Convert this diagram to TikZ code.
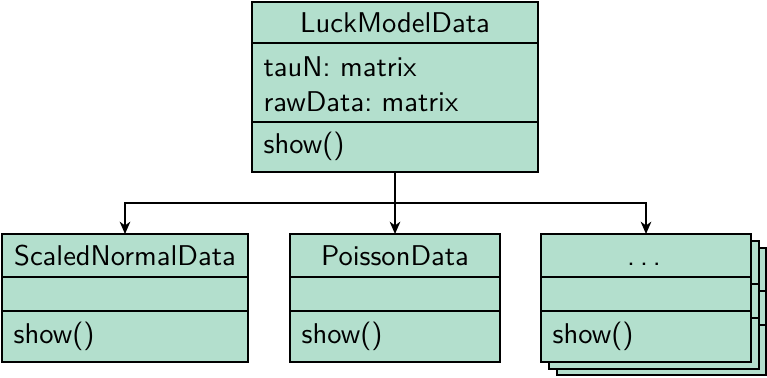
\documentclass[tikz,border=0pt]{standalone}
\usetikzlibrary{arrows.meta}
\definecolor{classfill}{RGB}{179,223,205}
\newcommand\unitpx{0.35pt}
\newcommand\spaceddots{.\kern1.7pt.\kern1.7pt.}
\begin{document}
\frenchspacing
\begin{tikzpicture}[x=0.35pt,y=-0.35pt,font=\sffamily,
  box/.style={draw,fill=classfill,line width=0.7pt,inner sep=0pt,outer sep=0pt,anchor=north west},
  rule/.style={line width=0.7pt},
  title/.style={anchor=base,inner sep=0pt},
  member/.style={anchor=base west,inner sep=0pt},
  link/.style={line width=0.7pt,-{Stealth[length=4.3pt,width=3.7pt,inset=1.3pt]}}]
\useasboundingbox (0,0) rectangle (767,377);

% base class
\node[box,minimum width=286*\unitpx,minimum height=170*\unitpx] (top) at (252,2) {};
\draw[rule] (252,43) -- (538,43);
\draw[rule] (252,122) -- (538,122);
\node[title] (topname) at (395,32) {LuckModelData};
\node[member] (topattrA) at (263,76) {tauN: matrix};
\node[member] (topattrB) at (263,111) {rawData: matrix};
\node[member] (topop) at (263,153) {show()};

% ScaledNormalData
\node[box,minimum width=246*\unitpx,minimum height=128*\unitpx] (snd) at (2,234) {};
\draw[rule] (2,277) -- (248,277);
\draw[rule] (2,311) -- (248,311);
\node[title] (sndname) at (125,265) {ScaledNormalData};
\node[member] (sndop) at (13,343) {show()};

% PoissonData
\node[box,minimum width=210*\unitpx,minimum height=128*\unitpx] (poisson) at (290,234) {};
\draw[rule] (290,277) -- (500,277);
\draw[rule] (290,311) -- (500,311);
\node[title] (poissonname) at (395,265) {PoissonData};
\node[member] (poissonop) at (301,343) {show()};

% further subclasses, drawn as a stack
\node[box,minimum width=209*\unitpx,minimum height=127*\unitpx] (dotsC) at (557,248) {};
\draw[rule] (557,291) -- (766,291);
\draw[rule] (557,325) -- (766,325);
\node[box,minimum width=210*\unitpx,minimum height=128*\unitpx] (dotsB) at (549,241) {};
\draw[rule] (549,284) -- (759,284);
\draw[rule] (549,318) -- (759,318);
\node[box,minimum width=210*\unitpx,minimum height=128*\unitpx] (dots) at (541,234) {};
\draw[rule] (541,277) -- (751,277);
\draw[rule] (541,311) -- (751,311);
\node[title] (dotsname) at (644,265) {\spaceddots};
\node[member] (dotsop) at (552,343) {show()};

% inheritance links
\coordinate (bus) at (395,203);
\draw[rule] (top.south) -- (bus);
\draw[link] (bus) -| (snd.north);
\draw[link] (bus) -- (poisson.north);
\draw[link] (bus) -| (dots.north);
\end{tikzpicture}
\end{document}
